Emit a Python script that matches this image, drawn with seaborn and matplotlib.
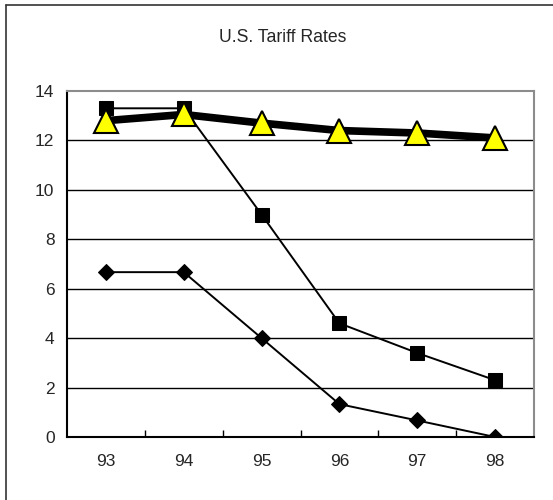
import matplotlib
matplotlib.use("Agg")
import matplotlib.pyplot as plt
import seaborn as sns
import pandas as pd
from matplotlib.lines import Line2D

# Tariff rate series by year
years = ["93", "94", "95", "96", "97", "98"]
rates_square = [13.3, 13.3, 9.0, 4.6, 3.4, 2.3]
rates_diamond = [6.67, 6.67, 4.0, 1.33, 0.67, 0.0]
rates_triangle = [12.8, 13.05, 12.7, 12.4, 12.3, 12.1]
y_ticks = [0, 2, 4, 6, 8, 10, 12, 14]

sns.set_theme(style="white")
plt.rcParams["font.family"] = ["Liberation Sans", "DejaVu Sans"]

fig = plt.figure(figsize=(5.53, 5.00), dpi=100)
ax = fig.add_axes([67 / 553, 1 - 437 / 500, (534 - 67) / 553, (437 - 91) / 500])

df = pd.DataFrame({
    "year": years * 3,
    "rate": rates_square + rates_diamond + rates_triangle,
    "series": ["square"] * 6 + ["diamond"] * 6 + ["triangle"] * 6,
})

styles = {
    "square": dict(marker="s", markersize=10, linewidth=1.4, color="black",
                   markerfacecolor="black", markeredgecolor="black", zorder=3),
    "diamond": dict(marker="D", markersize=8.5, linewidth=1.4, color="black",
                    markerfacecolor="black", markeredgecolor="black", zorder=3),
    "triangle": dict(marker="^", markersize=17, linewidth=5.5, color="black",
                     markerfacecolor="#ffff00", markeredgecolor="black",
                     markeredgewidth=1.5, zorder=4),
}

for name in ["square", "diamond", "triangle"]:
    sub = df[df["series"] == name]
    sns.lineplot(data=sub, x="year", y="rate", ax=ax, sort=False,
                 legend=False, **styles[name])

ax.set_xlim(-0.5, len(years) - 0.5)
ax.set_ylim(0, 14)
ax.set_yticks(y_ticks)
ax.set_yticklabels([str(v) for v in y_ticks])
ax.set_xticks(range(len(years)))
ax.set_xticklabels(years)
ax.set_xlabel("")
ax.set_ylabel("")

# Horizontal gridlines
for v in y_ticks[1:-1]:
    ax.axhline(v, color="black", linewidth=1.0, zorder=1)

# Category boundary ticks, pointing into the plot
ax.set_xticks([i + 0.5 for i in range(len(years) - 1)], minor=True)
ax.tick_params(axis="x", which="major", length=0, pad=12, labelsize=12.5)
ax.tick_params(axis="x", which="minor", length=5, width=1, direction="in",
               color="black", bottom=True)
ax.tick_params(axis="y", which="major", length=0, pad=9, labelsize=12.5)

for side in ["left", "bottom"]:
    ax.spines[side].set_color("black")
    ax.spines[side].set_linewidth(1.5)
for side in ["top", "right"]:
    ax.spines[side].set_color("#8c8c8c")
    ax.spines[side].set_linewidth(1.5)
ax.grid(False)

fig.text(283 / 553, 1 - 38 / 500, "U.S. Tariff Rates", ha="center",
         va="center", fontsize=12.7)

# Outer chart frame
fig.add_artist(Line2D([6 / 553, 1.0], [1 - 5 / 500, 1 - 5 / 500],
                      transform=fig.transFigure, color="#333333", linewidth=1.2))
fig.add_artist(Line2D([6 / 553, 6 / 553], [0.0, 1 - 5 / 500],
                      transform=fig.transFigure, color="#333333", linewidth=1.2))

fig.savefig("out.png", dpi=100)
